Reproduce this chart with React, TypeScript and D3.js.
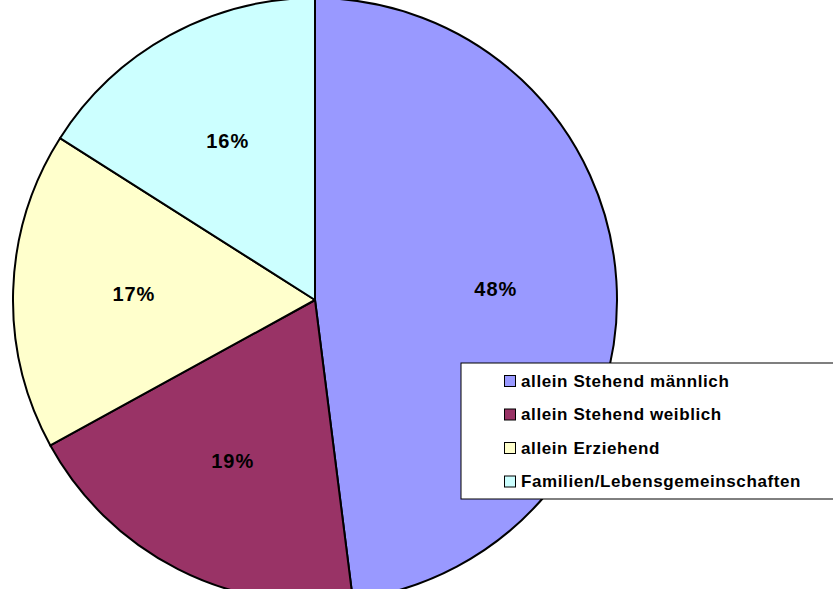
import React from "react";
import * as d3 from "d3";

const categories = [
  "allein Stehend männlich",
  "allein Stehend weiblich",
  "allein Erziehend",
  "Familien/Lebensgemeinschaften",
];
const values = [48, 19, 17, 16];
const colors = ["#9999FF", "#993366", "#FFFFCC", "#CCFFFF"];

const W = 833;
const H = 589;

export default function App() {
  const cx = 315;
  const cy = 300;
  const R = 302;
  const pie = d3
    .pie<number>()
    .sort(null)
    .startAngle(0)
    .endAngle(2 * Math.PI)
    .value((d) => d);
  const arcs = pie(values);
  const arcGen = d3.arc<d3.PieArcDatum<number>>().innerRadius(0).outerRadius(R);
  const labelArc = d3
    .arc<d3.PieArcDatum<number>>()
    .innerRadius(R * 0.6)
    .outerRadius(R * 0.6);
  const total = d3.sum(values);

  const legX = 461;
  const legY = 363;

  return (
    <svg
      width={W}
      height={H}
      style={{ position: "absolute", left: 0, top: 0, background: "#fff" }}
      fontFamily="'Liberation Sans', Arial, sans-serif"
    >
      <g transform={`translate(${cx},${cy})`}>
        {arcs.map((a, i) => (
          <path
            key={i}
            d={arcGen(a) || ""}
            fill={colors[i]}
            stroke="#000"
            strokeWidth={2}
            strokeLinejoin="round"
          />
        ))}
        {arcs.map((a, i) => {
          const [x, y] = labelArc.centroid(a);
          return (
            <text
              key={i}
              x={x}
              y={y}
              textAnchor="middle"
              dominantBaseline="central"
              fontWeight="bold"
              fontSize={20}
              letterSpacing={1}
              fill="#000"
            >
              {`${Math.round((values[i] / total) * 100)}%`}
            </text>
          );
        })}
      </g>
      <rect
        x={legX}
        y={legY}
        width={W - legX + 5}
        height={136}
        fill="#fff"
        stroke="#000"
        strokeWidth={1}
      />
      {categories.map((c, i) => {
        const y = legY + 18 + i * 33.5;
        return (
          <g key={c}>
            <rect
              x={504.5}
              y={y - 5.5}
              width={11}
              height={11}
              fill={colors[i]}
              stroke="#000"
              strokeWidth={1}
            />
            <text
              x={521}
              y={y}
              dominantBaseline="central"
              fontWeight="bold"
              fontSize={17}
              letterSpacing={0.6}
              fill="#000"
            >
              {c}
            </text>
          </g>
        );
      })}
    </svg>
  );
}
